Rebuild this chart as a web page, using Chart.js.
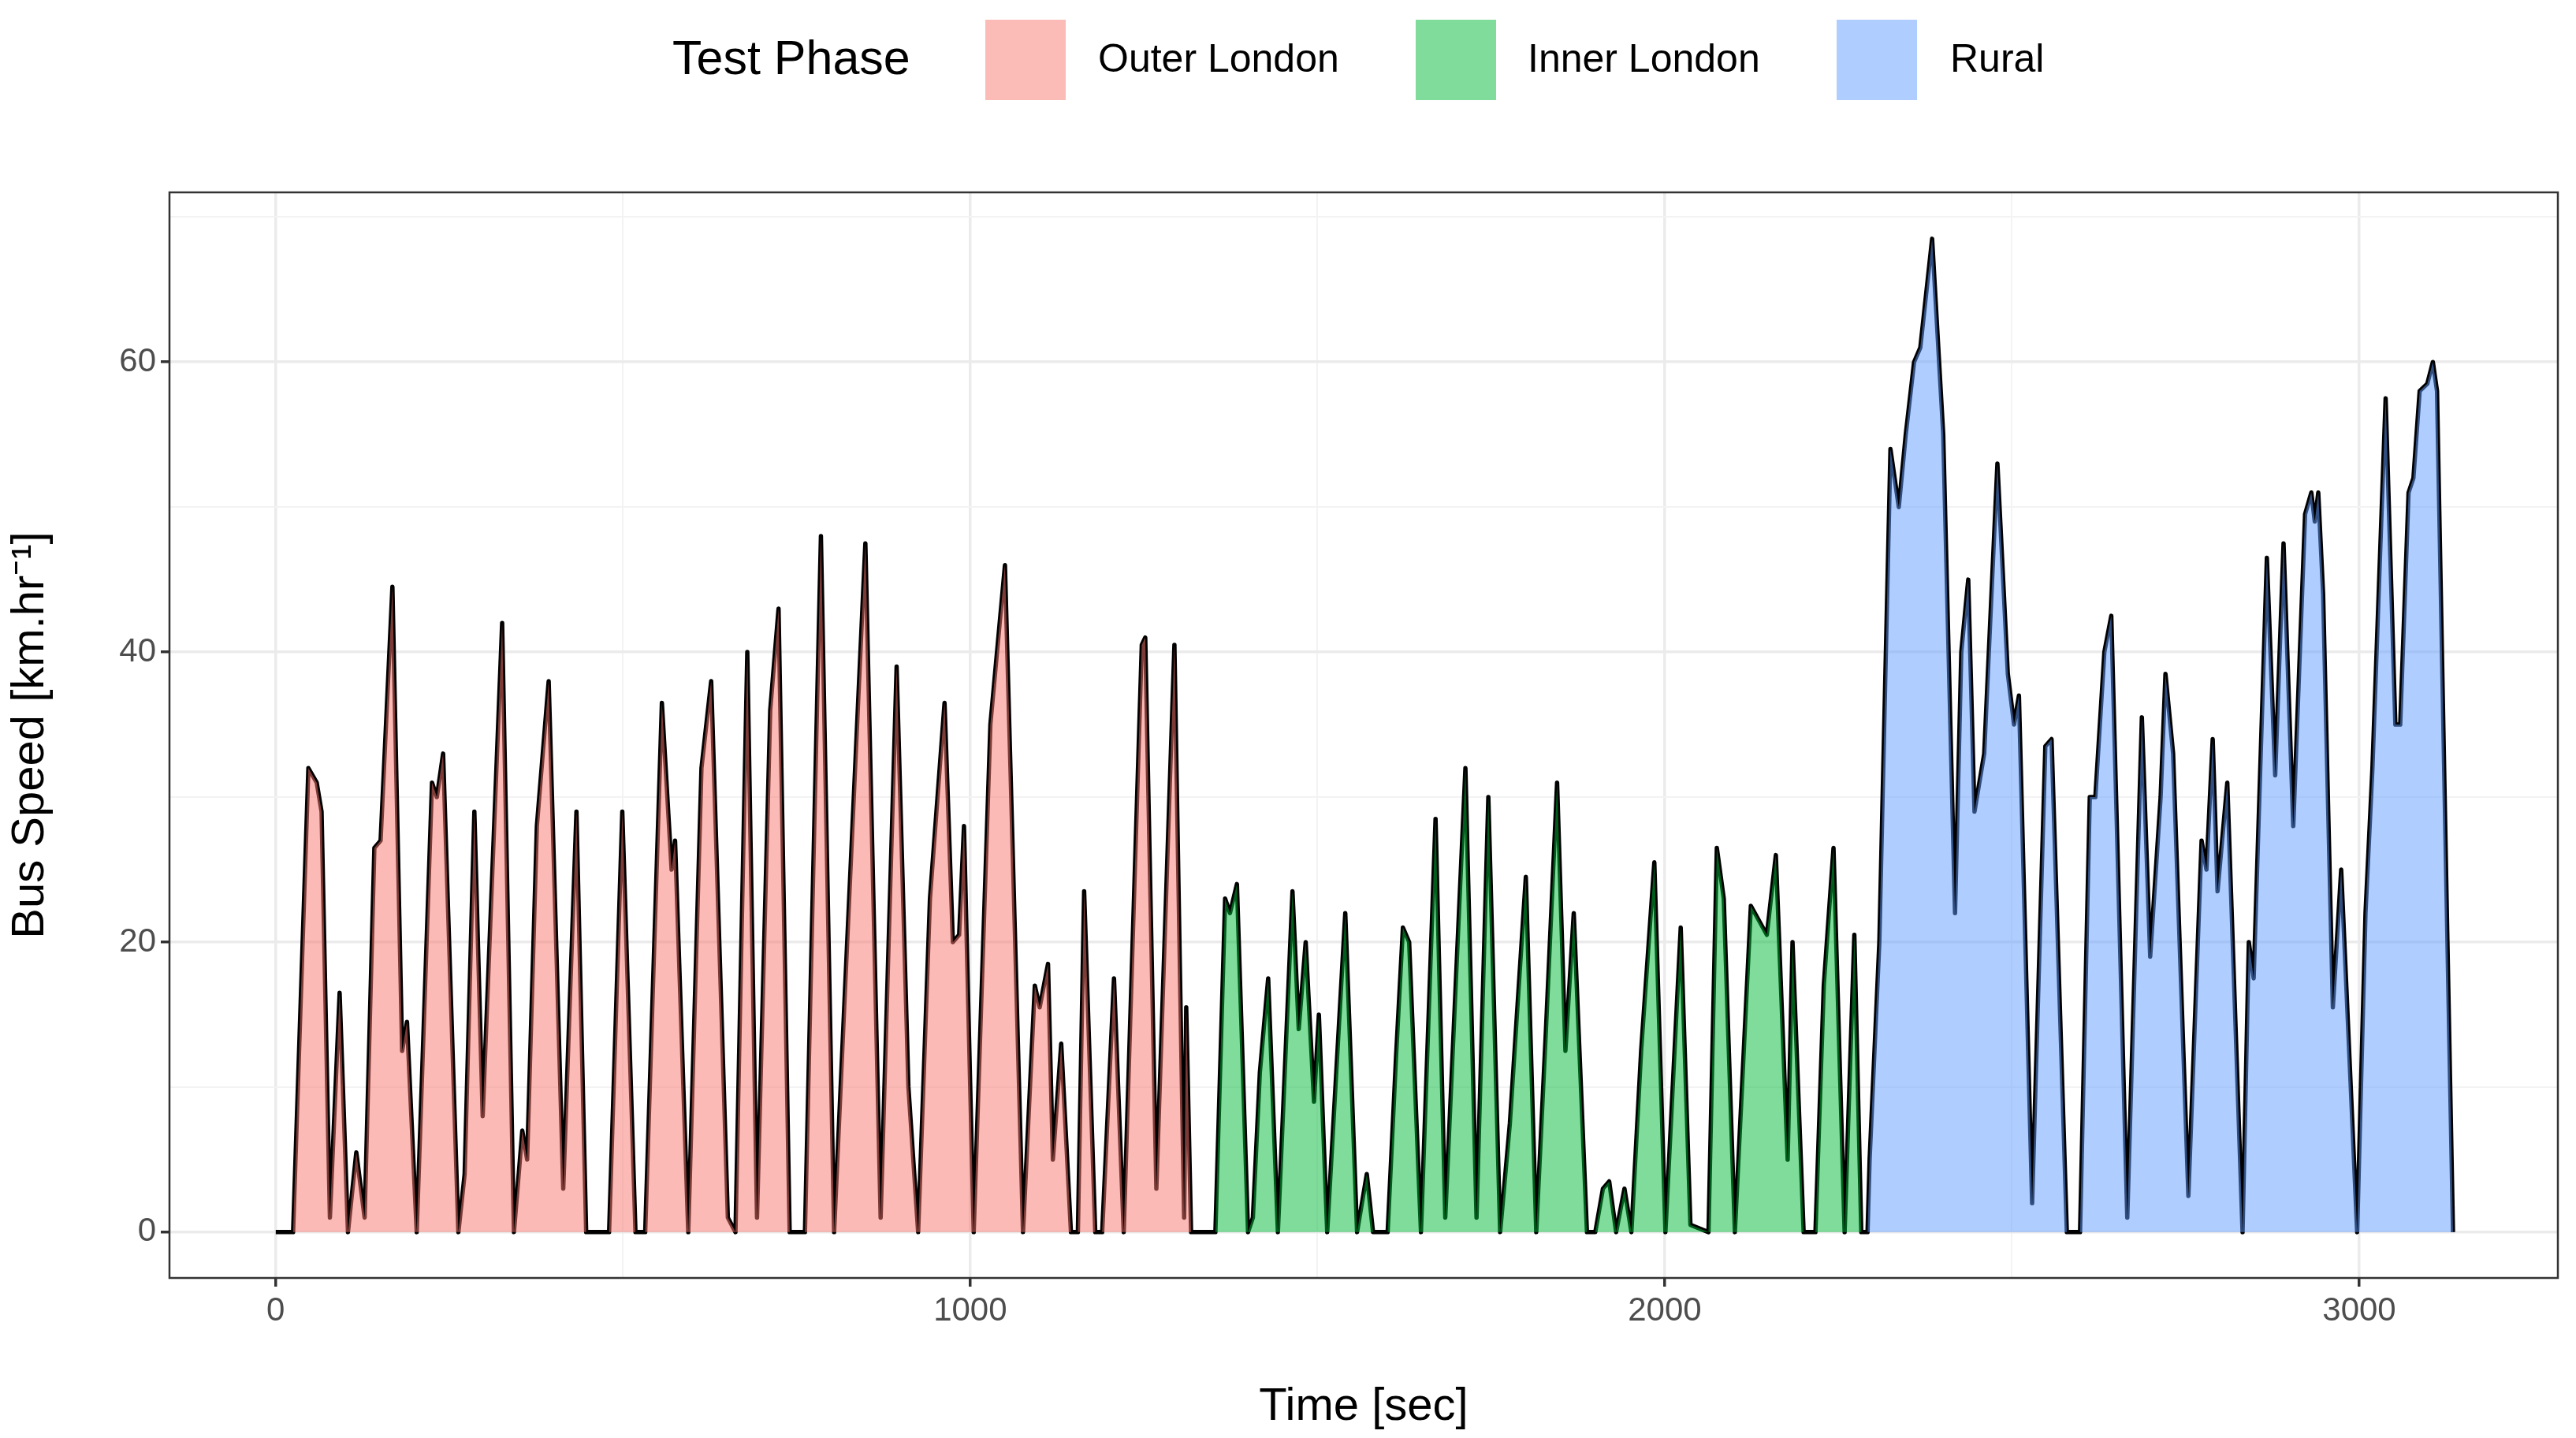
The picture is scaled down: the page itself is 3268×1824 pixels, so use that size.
<!DOCTYPE html>
<html><head><meta charset="utf-8">
<script src="https://cdn.jsdelivr.net/npm/chart.js@4.4.1/dist/chart.umd.min.js"></script>
<style>
html,body{margin:0;padding:0;background:#fff;}
#wrap{position:relative;width:3268px;height:1824px;font-family:"Liberation Sans",Arial,sans-serif;}
#c{position:absolute;left:0;top:0;}
.lg{position:absolute;top:0;height:150px;display:flex;align-items:center;}
.box{position:absolute;top:25px;width:102px;height:102px;}
.t{position:absolute;top:44px;font-size:50px;color:#000;line-height:60px;}
</style></head><body>
<div id="wrap">
<canvas id="c" width="3268" height="1824"></canvas>
<div class="t" style="left:853px;top:38px;font-size:61px;line-height:70px;">Test Phase</div>
<div class="box" style="left:1250px;background:#fbbcb7"></div>
<div class="t" style="left:1393px;">Outer London</div>
<div class="box" style="left:1796px;background:#80dc9b"></div>
<div class="t" style="left:1938px;">Inner London</div>
<div class="box" style="left:2330px;background:#b0cdff"></div>
<div class="t" style="left:2474px;">Rural</div>
</div>
<script>
const phaseNames = ["Outer London","Inner London","Rural"];
const xTicks = [0,1000,2000,3000];
const yTicks = [0,20,40,60];
const outerT = [0,25,47,59,66,78,92,104,116,128,142,151,168,182,189,203,225,232,241,263,272,286,298,326,343,355,362,376,393,414,433,447,480,499,518,532,556,570,575,594,613,627,651,662,679,693,712,724,740,762,785,804,819,849,871,894,911,925,942,963,975,984,991,1005,1029,1050,1076,1093,1100,1112,1119,1131,1145,1155,1164,1180,1190,1207,1221,1247,1252,1268,1294,1308,1311,1318];
const outerV = [0,0,32,31,29,1,16.5,0,5.5,1,26.5,27,44.5,12.5,14.5,0,31,30,33,0,4,29,8,42,0,7,5,28,38,3,29,0,0,29,0,0,36.5,25,27,0,32,38,1,0,40,1,36,43,0,0,48,0,16,47.5,1,39,10,0,23,36.5,20,20.5,28,0,35,46,0,17,15.5,18.5,5,13,0,0,23.5,0,0,17.5,0,40.5,41,3,40.5,1,15.5,0];
const innerT = [1318,1353,1367,1374,1384,1400,1407,1417,1429,1443,1464,1473,1483,1495,1502,1514,1540,1557,1571,1580,1601,1613,1623,1632,1649,1670,1684,1713,1729,1746,1763,1777,1800,1815,1829,1845,1857,1869,1888,1900,1911,1920,1930,1942,1952,1966,1985,2001,2023,2037,2063,2075,2085,2101,2124,2147,2160,2177,2184,2200,2217,2229,2243,2259,2273,2283,2292];
const innerV = [0,0,23,22,24,0,1,11,17.5,0,23.5,14,20,9,15,0,22,0,4,0,0,12,21,20,0,28.5,1,32,1,30,0,7.5,24.5,0,14,31,12.5,22,0,0,3,3.5,0,3,0,12.5,25.5,0,21,0.5,0,26.5,23,0,22.5,20.5,26,5,20,0,0,17,26.5,0,20.5,0,0];
const ruralT = [2292,2295,2309,2325,2337,2347,2359,2368,2385,2401,2418,2427,2437,2446,2460,2479,2494,2503,2510,2529,2548,2557,2579,2598,2612,2620,2633,2643,2666,2687,2699,2714,2721,2732,2754,2773,2780,2789,2796,2810,2832,2841,2848,2867,2879,2891,2905,2922,2931,2936,2941,2948,2962,2974,2997,3009,3019,3038,3052,3059,3071,3078,3087,3098,3106,3112,3127,3135];
const ruralV = [0,5,20,54,50,55,60,61,68.5,55,22,40,45,29,33,53,38.5,35,37,2,33.5,34,0,0,30,30,40,42.5,1,35.5,19,30,38.5,33,2.5,27,25,34,23.5,31,0,20,17.5,46.5,31.5,47.5,28,49.5,51,49,51,44,15.5,25,0,22,32,57.5,35,35,51,52,58,58.5,60,58,20,0];

const pts = (T,V)=>T.map((t,i)=>({x:t,y:V[i]}));
const fills = ["rgba(248,118,109,0.5)","rgba(0,186,56,0.5)","rgba(97,156,255,0.5)"];
const series = [pts(outerT,outerV),pts(innerT,innerV),pts(ruralT,ruralV)];
const datasets = series.map((d,i)=>({label:phaseNames[i],data:d,fill:'origin',backgroundColor:fills[i],borderWidth:0,pointRadius:0,tension:0}));
datasets.push({label:'speed',data:[].concat(...series),fill:false,borderColor:'#000',borderWidth:5.5,pointRadius:0,tension:0,borderJoinStyle:'round'});

const border = {id:'border',afterDraw(ch){const a=ch.chartArea,c=ch.ctx;c.save();c.strokeStyle='#333';c.lineWidth=2.5;c.strokeRect(a.left,a.top,a.right-a.left,a.bottom-a.top);c.restore();}};
const tickFont={family:"Liberation Sans",size:42};
new Chart(document.getElementById('c'),{
 type:'line',data:{datasets},
 plugins:[border],
 options:{responsive:false,animation:false,
  layout:{padding:{top:244,right:23,left:0,bottom:0}},
  plugins:{legend:{display:false},tooltip:{enabled:false}},
  scales:{
   x:{type:'linear',min:-153,max:3286,
     afterBuildTicks(s){s.ticks=[0,500,1000,1500,2000,2500,3000].map(v=>({value:v}));},
     afterFit(s){s.height=203;},
     ticks:{font:tickFont,color:'#4d4d4d',padding:6,maxRotation:0,callback:v=>xTicks.includes(v)?v:''},
     grid:{color:c=>c.tick&&c.tick.value%1000===0?'#ebebeb':'#f3f3f3',lineWidth:c=>c.tick&&c.tick.value%1000===0?3.5:2,tickLength:11,tickColor:c=>c.tick&&c.tick.value%1000===0?'#333':'rgba(0,0,0,0)'},
     border:{display:false},
     title:{display:true,text:'Time [sec]',font:{family:"Liberation Sans",size:58},color:'#000',padding:{top:4}}},
   y:{min:-3.16,max:71.7,
     afterBuildTicks(s){s.ticks=[0,10,20,30,40,50,60,70].map(v=>({value:v}));},
     afterFit(s){s.width=215;},
     ticks:{font:tickFont,color:'#4d4d4d',padding:6,callback:v=>yTicks.includes(v)?v:''},
     grid:{color:c=>c.tick&&c.tick.value%20===0?'#ebebeb':'#f3f3f3',lineWidth:c=>c.tick&&c.tick.value%20===0?3.5:2,tickLength:11,tickColor:c=>c.tick&&c.tick.value%20===0?'#333':'rgba(0,0,0,0)'},
     border:{display:false},
     title:{display:true,text:'Bus Speed [km.hr⁻¹]',font:{family:"Liberation Sans",size:58},color:'#000',padding:{bottom:4}}}
  }}
});
</script></body></html>
